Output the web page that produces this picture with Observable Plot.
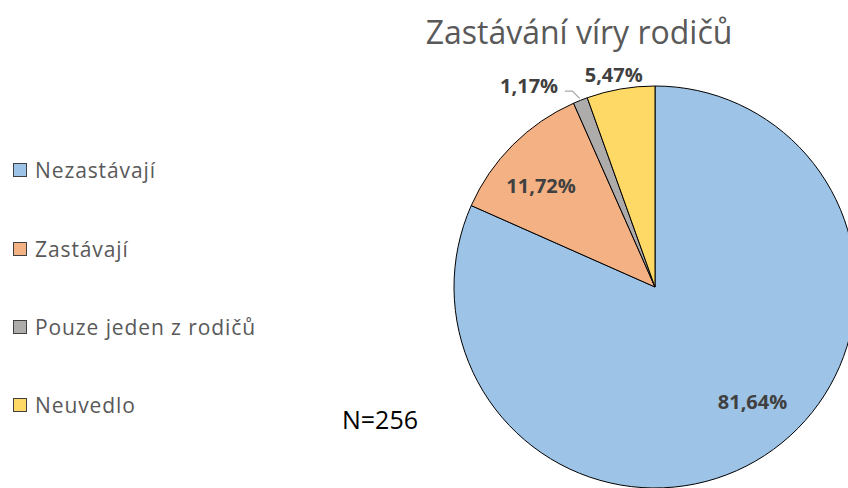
<!DOCTYPE html>
<html><head><meta charset="utf-8">
<script src="https://cdn.jsdelivr.net/npm/d3@7"></script>
<script src="https://cdn.jsdelivr.net/npm/@observablehq/plot@0.6"></script>
<style>
body{margin:0;background:#fff;overflow:hidden;font-family:"Open Sans",Lato,sans-serif}
#wrap{position:relative;width:848px;height:488px;overflow:hidden}
#wrap svg{position:absolute;left:0;top:0}
.title{position:absolute;left:579px;top:16px;transform:translateX(-50%);font-size:32px;line-height:32px;color:#595959;white-space:nowrap}
.leg{position:absolute;left:13px;display:flex;align-items:center;font-size:21px;line-height:21px;letter-spacing:0.9px;color:#595959;white-space:nowrap}
.sw{width:12px;height:12px;border:1px solid #404040;margin-right:8px;box-sizing:content-box}
.n{position:absolute;left:342px;top:407px;font-size:25px;line-height:25px;color:#000}
</style></head><body><div id="wrap"></div>
<script>
// ---- data ----
const categories = ["Nezastávají", "Zastávají", "Pouze jeden z rodičů", "Neuvedlo"];
const values = [81.64, 11.72, 1.17, 5.47];
const valueLabels = ["81,64%", "11,72%", "1,17%", "5,47%"];
const colors = ["#9DC3E6", "#F4B183", "#AEABAB", "#FFD966"];
const titleText = "Zastávání víry rodičů";
const noteText = "N=256";

// ---- layout ----
const W = 848, H = 488;
const cx = 655, cy = 287, R = 201;
// label placement: angle offset (deg) from slice middle, radius factor
const labelPlace = [[-7, 0.75], [-3.5, 0.76], [-10.4, 1.18], [-1.3, 1.075]];
const legendY = [170, 249, 327, 405];

const data = categories.map((c, i) => ({category: c, value: values[i], label: valueLabels[i], color: colors[i]}));
const arcs = d3.pie().sort(null).value(d => d.value)(data);
const polar = (a, r) => [cx + r * Math.sin(a), cy - r * Math.cos(a)];

const labelData = arcs.map((a, i) => {
  const mid = (a.startAngle + a.endAngle) / 2 + labelPlace[i][0] * Math.PI / 180;
  const [x, y] = polar(mid, labelPlace[i][1] * R);
  return {x, y, text: a.data.label};
});

// leader line for the small grey slice
const g = arcs[2];
const gMid = (g.startAngle + g.endAngle) / 2;
const [ex, ey] = polar(gMid, 1.02 * R);
const leader = [{x: ex - 14, y: ey - 6}, {x: ex - 7, y: ey - 6}, {x: ex, y: ey + 1}];

function pieMark(index, scales) {
  const sx = scales && scales.x ? scales.x : v => v;
  const sy = scales && scales.y ? scales.y : v => v;
  const arc = d3.arc().innerRadius(0).outerRadius(sx(cx + R) - sx(cx));
  const grp = d3.create("svg:g").attr("transform", `translate(${sx(cx)},${sy(cy)})`);
  grp.selectAll("path").data(arcs).join("path")
    .attr("d", arc)
    .attr("fill", d => d.data.color)
    .attr("stroke", "#000")
    .attr("stroke-width", 1)
    .attr("stroke-linejoin", "round");
  return grp.node();
}

const chart = Plot.plot({
  width: W, height: H, margin: 0,
  x: {domain: [0, W], range: [0, W], axis: null},
  y: {domain: [0, H], range: [0, H], axis: null},
  style: {fontFamily: "'Open Sans', Lato, sans-serif", background: "transparent", overflow: "visible"},
  marks: [
    pieMark,
    Plot.line(leader, {x: "x", y: "y", stroke: "#A6A6A6", strokeWidth: 1.3}),
    Plot.text(labelData, {x: "x", y: "y", text: "text", fontSize: 20, fontWeight: "bold", fill: "#404040"})
  ]
});

const wrap = document.getElementById("wrap");
wrap.appendChild(chart);

const t = document.createElement("div");
t.className = "title"; t.textContent = titleText; wrap.appendChild(t);

categories.forEach((c, i) => {
  const d = document.createElement("div");
  d.className = "leg";
  d.style.top = (legendY[i] - 10.5) + "px";
  const sw = document.createElement("span");
  sw.className = "sw"; sw.style.background = colors[i];
  const tx = document.createElement("span");
  tx.textContent = c;
  d.appendChild(sw); d.appendChild(tx);
  wrap.appendChild(d);
});

const n = document.createElement("div");
n.className = "n"; n.textContent = noteText; wrap.appendChild(n);
</script>
</body></html>
